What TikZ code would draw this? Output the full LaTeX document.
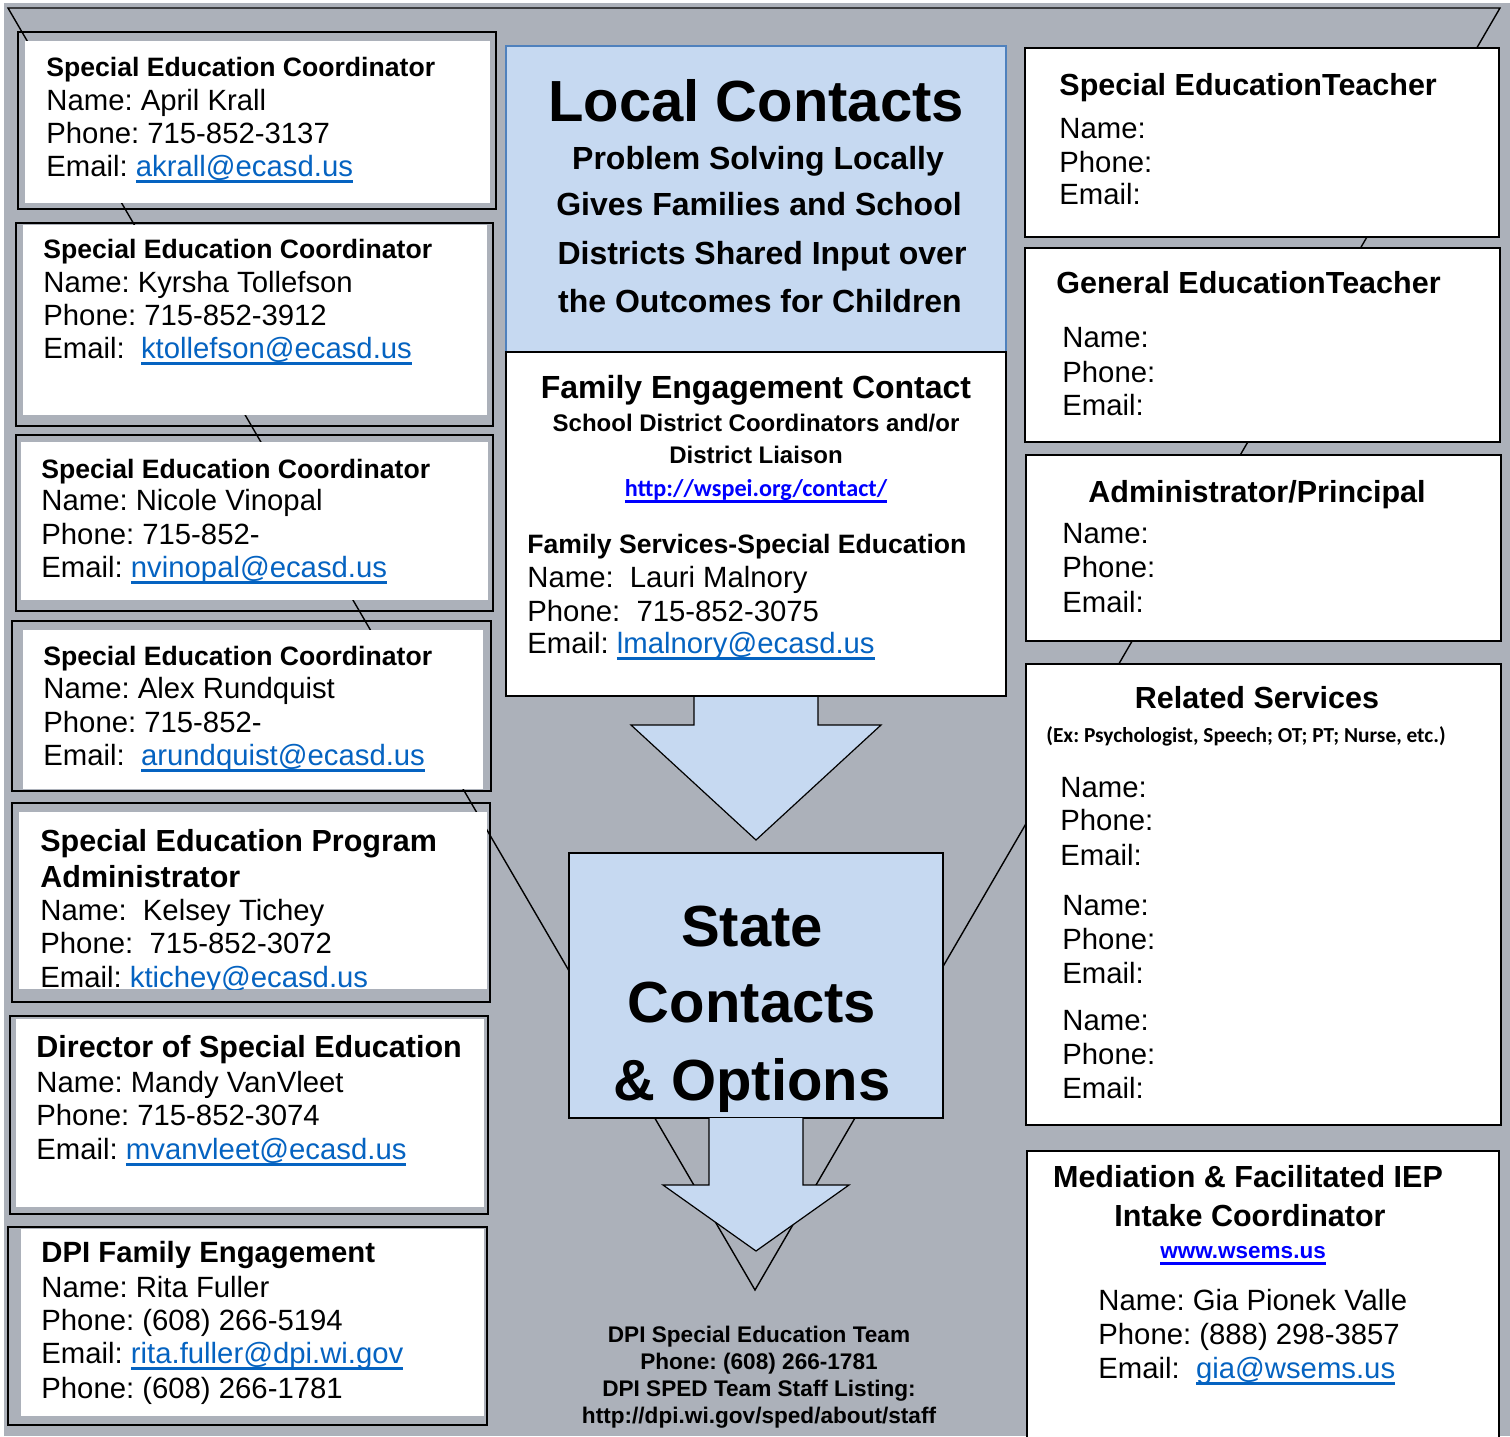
\documentclass[tikz,border=0pt]{standalone}
\usepackage{fontspec}
\setmainfont{Liberation Sans}
\newfontfamily\carlito{Carlito}
\definecolor{bg}{RGB}{172,177,186}
\definecolor{lblue}{RGB}{198,217,241}
\definecolor{bord}{RGB}{79,129,189}
\definecolor{linkc}{RGB}{5,99,193}
\definecolor{pblue}{RGB}{0,0,255}
\newsavebox\ulbox
\newcommand\myul[1]{\sbox\ulbox{#1}\rlap{\rule[-3.3pt]{\wd\ulbox}{1.1pt}}\usebox\ulbox}
\newcommand\lnk[1]{\textcolor{linkc}{\myul{#1}}}
\newcommand\plnk[1]{\textcolor{pblue}{\myul{#1}}}
\frenchspacing
\begin{document}
\frenchspacing
\begin{tikzpicture}[x=0.5pt,y=-0.5pt,
  tx/.style={inner sep=0pt, anchor=base west},
  tc/.style={inner sep=0pt, anchor=base},
  body/.style={font=\fontsize{14.65}{17}\selectfont},
  ctitle/.style={font=\fontsize{13.3}{16}\selectfont\bfseries},
  btitle/.style={font=\fontsize{15.25}{18}\selectfont\bfseries},
  huge/.style={font=\fontsize{29}{34}\selectfont\bfseries},
  sub/.style={font=\fontsize{16}{19}\selectfont\bfseries},
  small/.style={font=\fontsize{12}{14}\selectfont\bfseries},
  foot/.style={font=\fontsize{11.3}{13}\selectfont\bfseries},
  frame/.style={draw=black, line width=1pt},
  innerw/.style={fill=white},
  rbox/.style={draw=black, fill=white, line width=1pt},
  tri/.style={draw=black, line width=0.7pt},
  arrowshape/.style={draw=black, fill=lblue, line width=0.6pt},
]
\useasboundingbox (0,0) rectangle (1510,1436);
\fill[white] (0,0) rectangle (1510,1436);
\fill[bg] (4,3) rectangle (1510,1436);
% background funnel
\coordinate (tl) at (8,8);
\coordinate (tr) at (1500,8);
\coordinate (tip) at (755,1290);
\draw[tri] (tl) -- (tr) -- (tip) -- cycle;

% ---------- left column ----------
\draw[frame] (18,32) rectangle (496,209);  \fill[innerw] (25,41) rectangle (490,203);
\draw[frame] (16,223) rectangle (493,426); \fill[innerw] (23,225) rectangle (487,415);
\draw[frame] (16,435) rectangle (493,611); \fill[innerw] (21,442) rectangle (488,600);
\draw[frame] (12,621) rectangle (491,791); \fill[innerw] (23,630) rectangle (483,789);
\draw[frame] (12,803) rectangle (490,1002); \fill[innerw] (19,812) rectangle (487,989);
\draw[frame] (10,1016) rectangle (488,1214); \fill[innerw] (16,1019) rectangle (484,1207);
\draw[frame] (8,1227) rectangle (487,1425); \fill[innerw] (21,1229) rectangle (484,1416);

\node[tx,ctitle] (b1t) at (46,76) {Special Education Coordinator};
\node[tx,body] (b1n) at (46,110) {Name: April Krall};
\node[tx,body] (b1p) at (46,143) {Phone: 715-852-3137};
\node[tx,body] (b1e) at (46,176) {Email: \lnk{akrall@ecasd.us}};

\node[tx,ctitle] (b2t) at (43,258) {Special Education Coordinator};
\node[tx,body] (b2n) at (43,292) {Name: Kyrsha Tollefson};
\node[tx,body] (b2p) at (43,325) {Phone: 715-852-3912};
\node[tx,body] (b2e) at (43,358) {Email:\ \ \lnk{ktollefson@ecasd.us}};

\node[tx,ctitle] (b3t) at (41,478) {Special Education Coordinator};
\node[tx,body] (b3n) at (41,510) {Name: Nicole Vinopal};
\node[tx,body] (b3p) at (41,544) {Phone: 715-852-};
\node[tx,body] (b3e) at (41,577) {Email: \lnk{nvinopal@ecasd.us}};

\node[tx,ctitle] (b4t) at (43,665) {Special Education Coordinator};
\node[tx,body] (b4n) at (43,698) {Name: Alex Rundquist};
\node[tx,body] (b4p) at (43,732) {Phone: 715-852-};
\node[tx,body] (b4e) at (43,765) {Email:\ \ \lnk{arundquist@ecasd.us}};

\node[tx,btitle] (b5t) at (40,851) {Special Education Program};
\node[tx,btitle] (b5u) at (40,887) {Administrator};
\node[tx,body] (b5n) at (40,920) {Name:\ \ Kelsey Tichey};
\node[tx,body] (b5p) at (40,953) {Phone:\ \ 715-852-3072};
\begin{scope}
\clip (19,812) rectangle (487,989);
\node[tx,body] (b5e) at (40,987) {Email: \lnk{ktichey@ecasd.us}};
\end{scope}

\node[tx,btitle] (b6t) at (36,1057) {Director of Special Education};
\node[tx,body] (b6n) at (36,1092) {Name: Mandy VanVleet};
\node[tx,body] (b6p) at (36,1125) {Phone: 715-852-3074};
\node[tx,body] (b6e) at (36,1159) {Email: \lnk{mvanvleet@ecasd.us}};

\node[tx,font=\fontsize{14.65}{17}\selectfont\bfseries] (b7t) at (41,1262) {DPI Family Engagement};
\node[tx,body] (b7n) at (41,1297) {Name: Rita Fuller};
\node[tx,body] (b7p) at (41,1330) {Phone: (608) 266-5194};
\node[tx,body] (b7e) at (41,1363) {Email: \lnk{rita.fuller@dpi.wi.gov}};
\node[tx,body] (b7q) at (41,1398) {Phone: (608) 266-1781};

% ---------- centre column ----------
\draw[draw=bord, fill=lblue, line width=0.8pt] (506,46) rectangle (1006,352);
\draw[draw=black, fill=white, line width=0.6pt] (506,352) rectangle (1006,696);

\node[tc,huge] (lc) at (756,121) {Local Contacts};
\node[tc,sub] (lc1) at (758,169) {Problem Solving Locally};
\node[tc,sub] (lc2) at (759,215) {Gives Families and School};
\node[tc,sub] (lc3) at (762,264) {Districts Shared Input over};
\node[tc,sub] (lc4) at (760,312) {the Outcomes for Children};

\node[tc,sub] (fe) at (756,398) {Family Engagement Contact};
\node[tc,small] (fe1) at (756,431) {School District Coordinators and/or};
\node[tc,small] (fe2) at (756,463) {District Liaison};
\node[tc,font=\fontsize{12.1}{14}\selectfont\carlito\bfseries] (fe3) at (756,496) {\plnk{http://wspei.org/contact/}};

\node[tx,ctitle] (fst) at (527,553) {Family Services-Special Education};
\node[tx,body] (fsn) at (527,587) {Name:\ \ Lauri Malnory};
\node[tx,body] (fsp) at (527,621) {Phone:\ \ 715-852-3075};
\node[tx,body] (fse) at (527,653) {Email: \lnk{lmalnory@ecasd.us}};

% arrow 1
\draw[arrowshape] (694,697) -- (694,725) -- (631,725) -- (756,840) -- (881,725) -- (818,725) -- (818,697);

% state box
\draw[draw=black, fill=lblue, line width=0.6pt] (569,853) rectangle (943,1118);
\node[tc,huge] (st1) at (752,946) {State};
\node[tc,huge] (st2) at (752,1022) {Contacts};
\node[tc,huge] (st3) at (752,1100) {\& Options};

% arrow 2
\draw[arrowshape] (709,1118) -- (709,1185) -- (663,1185) -- (756,1251) -- (849,1185) -- (803,1185) -- (803,1118);

\node[tc,foot] (f1) at (759,1342) {DPI Special Education Team};
\node[tc,foot] (f2) at (759,1369) {Phone: (608) 266-1781};
\node[tc,foot] (f3) at (759,1396) {DPI SPED Team Staff Listing:};
\node[tc,foot] (f4) at (759,1423) {http://dpi.wi.gov/sped/about/staff};

% ---------- right column ----------
\draw[rbox] (1025,48) rectangle (1499,237);
\draw[rbox] (1025,248) rectangle (1500,442);
\draw[rbox] (1026,455) rectangle (1501,641);
\draw[rbox] (1026,664) rectangle (1501,1125);
\draw[rbox] (1027,1151) rectangle (1499,1450);

\node[tx,btitle] (r1t) at (1059,95) {Special EducationTeacher};
\node[tx,body] (r1n) at (1059,138) {Name:};
\node[tx,body] (r1p) at (1059,172) {Phone:};
\node[tx,body] (r1e) at (1059,204) {Email:};

\node[tx,btitle] (r2t) at (1056,293) {General EducationTeacher};
\node[tx,body] (r2n) at (1062,347) {Name:};
\node[tx,body] (r2p) at (1062,382) {Phone:};
\node[tx,body] (r2e) at (1062,415) {Email:};

\node[tc,btitle] (r3t) at (1257,502) {Administrator/Principal};
\node[tx,body] (r3n) at (1062,543) {Name:};
\node[tx,body] (r3p) at (1062,577) {Phone:};
\node[tx,body] (r3e) at (1062,612) {Email:};

\node[tc,btitle] (r4t) at (1257,708) {Related Services};
\node[tc,font=\fontsize{10.7}{12}\selectfont\carlito\bfseries] (r4s) at (1246,742) {(Ex: Psychologist, Speech; OT; PT; Nurse, etc.)};
\node[tx,body] (r4n1) at (1060,797) {Name:};
\node[tx,body] (r4p1) at (1060,830) {Phone:};
\node[tx,body] (r4e1) at (1060,865) {Email:};
\node[tx,body] (r4n2) at (1062,915) {Name:};
\node[tx,body] (r4p2) at (1062,949) {Phone:};
\node[tx,body] (r4e2) at (1062,983) {Email:};
\node[tx,body] (r4n3) at (1062,1030) {Name:};
\node[tx,body] (r4p3) at (1062,1064) {Phone:};
\node[tx,body] (r4e3) at (1062,1098) {Email:};

\node[tc,btitle] (r5t) at (1248,1187) {Mediation \& Facilitated IEP};
\node[tc,btitle] (r5u) at (1250,1226) {Intake Coordinator};
\node[tc,font=\fontsize{11.25}{13}\selectfont\bfseries] (r5w) at (1243,1258) {\plnk{www.wsems.us}};
\node[tx,body] (r5n) at (1098,1310) {Name: Gia Pionek Valle};
\node[tx,body] (r5p) at (1098,1344) {Phone: (888) 298-3857};
\node[tx,body] (r5e) at (1098,1378) {Email:\ \ \lnk{gia@wsems.us}};
\end{tikzpicture}
\end{document}
